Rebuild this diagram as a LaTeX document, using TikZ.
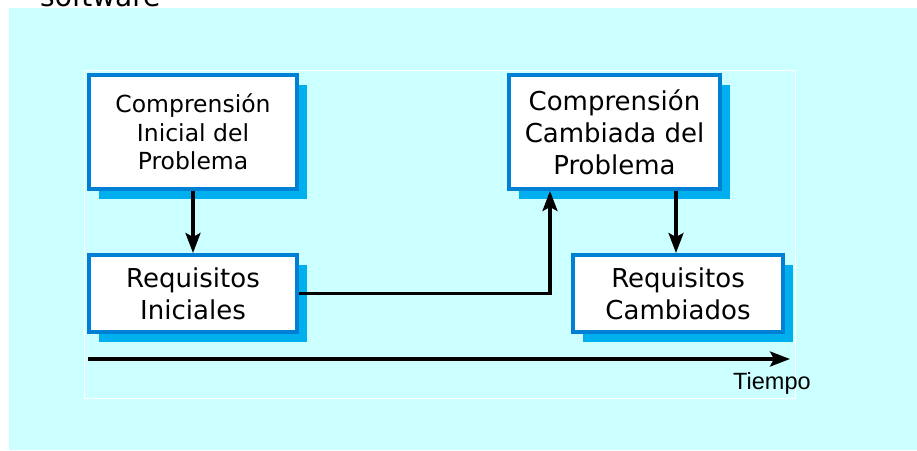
\documentclass[tikz,border=0pt]{standalone}
\usepackage{fontspec}
\setmainfont{DejaVu Sans}
\newfontfamily\arialfont{Liberation Sans}
\usetikzlibrary{shadows,arrows.meta}
\definecolor{bgcyan}{RGB}{204,255,255}
\definecolor{boxblue}{RGB}{0,128,212}
\definecolor{shadowblue}{RGB}{0,176,238}
\begin{document}
\begin{tikzpicture}[x=1pt,y=-1pt,
  procbox/.style={draw=boxblue, line width=4pt, fill=white, inner sep=0pt, align=center,
    drop shadow={shadow xshift=10pt, shadow yshift=-10pt, fill=shadowblue, opacity=1}},
  flow/.style={draw=black, line width=3.2pt, -{Stealth[length=20pt,width=15pt,inset=4pt]}},
  bigtext/.style={font=\fontsize{26}{32}\selectfont},
  smalltext/.style={font=\fontsize{23.5}{28.5}\selectfont}]
\useasboundingbox (0,0) rectangle (917,450);
\clip (0,0) rectangle (917,450);
\fill[white] (0,0) rectangle (917,450);
\fill[bgcyan] (9,8) rectangle (917,450);
\draw[white, line width=1pt] (84,70) rectangle (795,398);
\node[anchor=base west, inner sep=0pt, font=\fontsize{28}{30}\selectfont] (title) at (40,6) {software};

\node[procbox, smalltext, minimum width=208pt, minimum height=114pt] (cii) at (193,132)
  {Comprensión\\Inicial del\\Problema};
\node[procbox, bigtext, minimum width=211pt, minimum height=114pt] (ccp) at (614.5,132)
  {Comprensión\\Cambiada del\\Problema};
\node[procbox, bigtext, minimum width=208pt, minimum height=77pt] (ri) at (193,293.5)
  {Requisitos\\Iniciales};
\node[procbox, bigtext, minimum width=210pt, minimum height=77pt] (rc) at (678,293.5)
  {Requisitos\\Cambiados};

\draw[flow] (cii.south) -- (ri.north);
\draw[flow] (ri.east) -| (ccp.south -| 550,0);
\draw[flow] (ccp.south -| 676,0) -- (rc.north -| 676,0);

\coordinate (t0) at (88,359);
\coordinate (t1) at (790,359);
\draw[flow] (t0) -- (t1);
\node[anchor=base west, inner sep=0pt, font=\arialfont\fontsize{23.5}{26}\selectfont] (tiempo) at (733,389) {Tiempo};
\end{tikzpicture}
\end{document}
